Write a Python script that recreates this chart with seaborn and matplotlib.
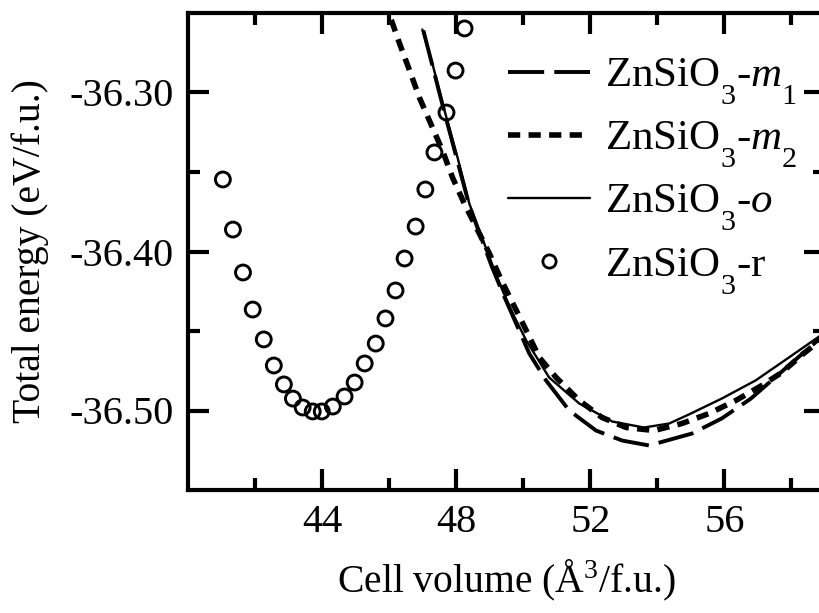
import numpy as np
import pandas as pd
import matplotlib
matplotlib.use("Agg")
import matplotlib.pyplot as plt
import matplotlib._mathtext as _mt
import seaborn as sns
from matplotlib.lines import Line2D
from matplotlib.ticker import FixedLocator

# ---------------- data ----------------
# ZnSiO3-r (open circles)
vol_r = [41.04, 41.34, 41.64, 41.93, 42.26, 42.56, 42.86, 43.13, 43.42, 43.72,
         43.99, 44.32, 44.67, 44.97, 45.27, 45.60, 45.89, 46.19, 46.46, 46.79,
         47.08, 47.35, 47.71, 47.98, 48.25]
en_r = [-36.3547, -36.3862, -36.4132, -36.4365, -36.4553, -36.4717, -36.4836,
        -36.4925, -36.4981, -36.5006, -36.5006, -36.4975, -36.4912, -36.4824,
        -36.4704, -36.4579, -36.4421, -36.4245, -36.4044, -36.3843, -36.3610,
        -36.3377, -36.3126, -36.2862, -36.2597]

# ZnSiO3-o (thin solid)
vol_o = [46.99, 47.29, 47.65, 48.04, 48.39, 48.69, 49.05, 49.38, 49.73, 50.09,
         50.77, 51.67, 52.65, 53.60, 54.35, 54.94, 55.92, 56.93, 57.92, 58.78, 59.00]
en_o = [-36.2604, -36.2818, -36.3113, -36.3409, -36.3698, -36.3868, -36.4069,
        -36.4245, -36.4409, -36.4560, -36.4792, -36.4956, -36.5069, -36.5107,
        -36.5082, -36.5025, -36.4925, -36.4811, -36.4667, -36.4541, -36.4509]

# ZnSiO3-m1 (long dashes)
vol_m1 = [47.02, 47.65, 48.39, 49.05, 49.38, 50.18, 50.68, 51.37, 52.17, 52.95,
          53.75, 55.03, 55.92, 56.79, 57.92, 58.78, 59.00]
en_m1 = [-36.2610, -36.3126, -36.3711, -36.4088, -36.4258, -36.4642, -36.4811,
         -36.5000, -36.5126, -36.5189, -36.5220, -36.5145, -36.5050, -36.4925,
         -36.4717, -36.4560, -36.4520]

# ZnSiO3-m2 (thick short dashes)
vol_m2 = [45.86, 46.31, 46.61, 46.90, 47.29, 47.59, 47.89, 48.24, 48.60, 48.99,
          49.35, 50.09, 50.48, 50.98, 51.67, 52.35, 53.07, 53.90, 54.73, 55.54,
          56.34, 57.11, 57.71, 58.36, 58.78, 59.00]
en_m2 = [-36.2421, -36.2692, -36.2862, -36.3031, -36.3220, -36.3365, -36.3535,
         -36.3698, -36.3849, -36.4013, -36.4182, -36.4497, -36.4667, -36.4792,
         -36.4937, -36.5044, -36.5107, -36.5126, -36.5082, -36.5019, -36.4937,
         -36.4843, -36.4761, -36.4642, -36.4572, -36.4535]

x_major = [44, 48, 52, 56]
x_minor = [42, 46, 50, 54, 58]
y_major = [-36.50, -36.40, -36.30]
y_minor = [-36.45, -36.35]
y_labels = ["-36.50", "-36.40", "-36.30"]

labels = ["ZnSiO$_3$-$\\mathit{m_1}$", "ZnSiO$_3$-$\\mathit{m_2}$",
          "ZnSiO$_3$-$\\mathit{o}$", "ZnSiO$_3$-r"]

# deeper subscripts, as in the reference typesetting
_mt.FontConstantsBase.sub1 = 0.95
_mt.FontConstantsBase.sub2 = 0.95

# ---------------- style ----------------
sns.set_style("ticks")
plt.rcParams["font.family"] = ["Liberation Serif", "DejaVu Serif"]
plt.rcParams["mathtext.fontset"] = "custom"
plt.rcParams["mathtext.rm"] = "Liberation Serif"
plt.rcParams["mathtext.it"] = "Liberation Serif:italic"
plt.rcParams["mathtext.bf"] = "Liberation Serif:bold"
plt.rcParams["axes.unicode_minus"] = False
for k in ["text.color", "axes.labelcolor", "axes.edgecolor",
          "xtick.color", "ytick.color"]:
    plt.rcParams[k] = "black"

fig = plt.figure(figsize=(8.19, 6.13), dpi=100)
ax = fig.add_axes([188 / 819, 123 / 613, 637 / 819, 477 / 613])

df_o = pd.DataFrame({"v": vol_o, "e": en_o})
df_m1 = pd.DataFrame({"v": vol_m1, "e": en_m1})
df_m2 = pd.DataFrame({"v": vol_m2, "e": en_m2})
df_r = pd.DataFrame({"v": vol_r, "e": en_r})

ls_m1 = (0, (9.3, 2.6))
ls_m2 = (0, (2.2, 1.5))
lw_m1, lw_m2, lw_o = 2.8, 4.0, 1.7

sns.lineplot(data=df_m1, x="v", y="e", ax=ax, color="black", lw=lw_m1,
             linestyle=ls_m1, legend=False)
sns.lineplot(data=df_m2, x="v", y="e", ax=ax, color="black", lw=lw_m2,
             linestyle=ls_m2, legend=False)
sns.lineplot(data=df_o, x="v", y="e", ax=ax, color="black", lw=lw_o,
             legend=False)
sns.scatterplot(data=df_r, x="v", y="e", ax=ax, marker="o", s=115,
                facecolors="none", edgecolor="black", linewidth=2.1,
                legend=False, zorder=3)

ax.set_xlim(40, 59)
ax.set_ylim(-36.55, -36.25)
ax.xaxis.set_major_locator(FixedLocator(x_major))
ax.xaxis.set_minor_locator(FixedLocator(x_minor))
ax.yaxis.set_major_locator(FixedLocator(y_major))
ax.yaxis.set_minor_locator(FixedLocator(y_minor))
ax.set_yticklabels(y_labels)

for sp in ax.spines.values():
    sp.set_linewidth(3.0)
    sp.set_visible(True)
    sp.set_color("black")
ax.tick_params(which="both", direction="in", top=True, right=True,
               width=3.0, colors="black")
ax.tick_params(which="major", length=15, labelsize=29, pad=10)
ax.tick_params(which="minor", length=8.5)

ax.set_xlabel("Cell volume (Å$^3$/f.u.)", fontsize=28.5, labelpad=12)
ax.set_ylabel("Total energy (eV/f.u.)", fontsize=28.5, labelpad=15)

handles = [
    Line2D([], [], color="black", lw=lw_m1, linestyle=ls_m1),
    Line2D([], [], color="black", lw=lw_m2, linestyle=ls_m2),
    Line2D([], [], color="black", lw=lw_o),
    Line2D([], [], color="black", lw=0, marker="o", markersize=9.5,
           markerfacecolor="none", markeredgewidth=2.0),
]
leg = ax.legend(handles, labels, loc="upper left",
                bbox_to_anchor=(508 / 819, 1 - 57 / 613),
                bbox_transform=fig.transFigure, frameon=False,
                fontsize=31, handlelength=1.9, handletextpad=0.35,
                labelspacing=0.3, borderpad=0, borderaxespad=0)

fig.savefig("out.png", dpi=100)
